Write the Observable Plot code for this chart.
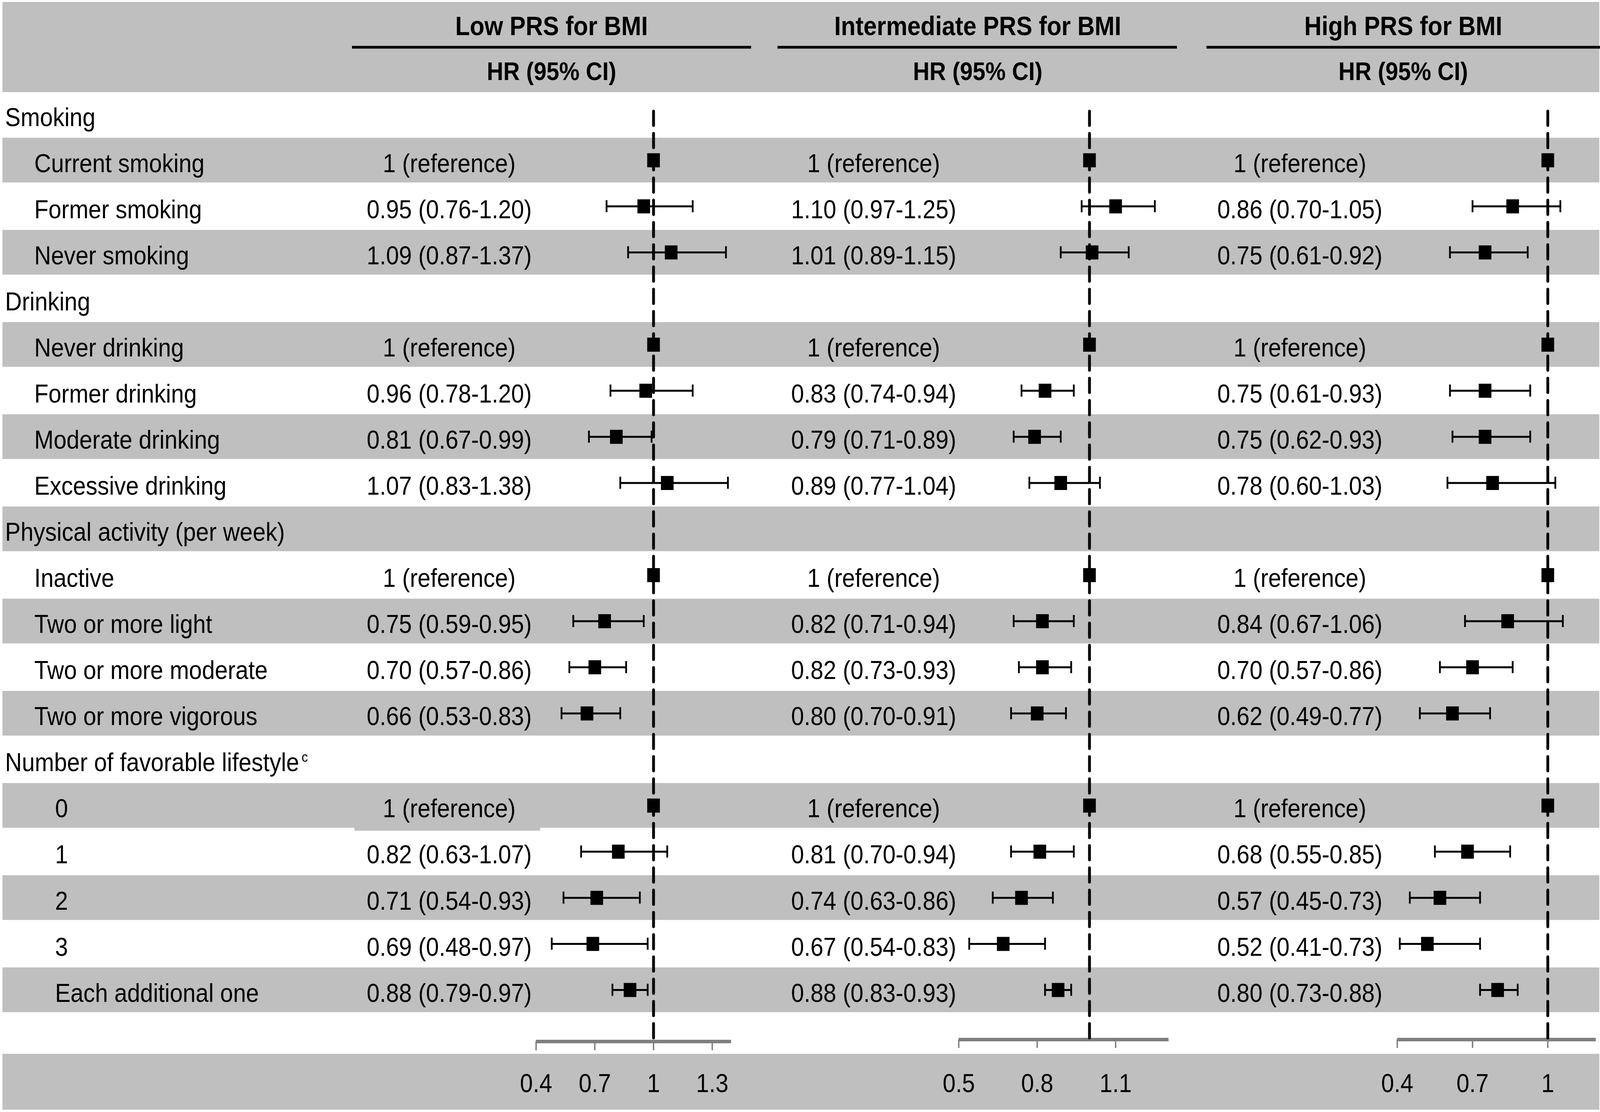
<!DOCTYPE html>
<html><head><meta charset="utf-8">
<script src="https://cdn.jsdelivr.net/npm/d3@7"></script>
<script src="https://cdn.jsdelivr.net/npm/@observablehq/plot@0.6"></script>
<style>
html,body{margin:0;padding:0;background:#fff;overflow:hidden;}
#chart{position:relative;width:100vw;height:100vh;overflow:hidden;background:#fff;}
#chart svg{position:absolute;left:0;top:0;width:100%!important;height:100%!important;max-width:none!important;}
</style></head><body><div id="chart"></div>
<script>
// ---------------- DATA ----------------
const rowLabels = [
  "Smoking", "Current smoking", "Former smoking", "Never smoking",
  "Drinking", "Never drinking", "Former drinking", "Moderate drinking", "Excessive drinking",
  "Physical activity (per week)", "Inactive", "Two or more light", "Two or more moderate", "Two or more vigorous",
  "Number of favorable lifestyle", "0", "1", "2", "3", "Each additional one"
];
const rowLevels = [0,1,1,1, 0,1,1,1,1, 0,1,1,1,1, 0,2,2,2,2,2];
const superscriptNote = "c";
const panelTitles = ["Low PRS for BMI", "Intermediate PRS for BMI", "High PRS for BMI"];
const ciHeader = "HR (95% CI)";
const refLabel = "1 (reference)";

const lowHR = [null,1,0.95,1.09, null,1,0.96,0.81,1.07, null,1,0.75,0.70,0.66, null,1,0.82,0.71,0.69,0.88];
const lowLo = [null,null,0.76,0.87, null,null,0.78,0.67,0.83, null,null,0.59,0.57,0.53, null,null,0.63,0.54,0.48,0.79];
const lowHi = [null,null,1.20,1.37, null,null,1.20,0.99,1.38, null,null,0.95,0.86,0.83, null,null,1.07,0.93,0.97,0.97];

const intHR = [null,1,1.10,1.01, null,1,0.83,0.79,0.89, null,1,0.82,0.82,0.80, null,1,0.81,0.74,0.67,0.88];
const intLo = [null,null,0.97,0.89, null,null,0.74,0.71,0.77, null,null,0.71,0.73,0.70, null,null,0.70,0.63,0.54,0.83];
const intHi = [null,null,1.25,1.15, null,null,0.94,0.89,1.04, null,null,0.94,0.93,0.91, null,null,0.94,0.86,0.83,0.93];

const highHR = [null,1,0.86,0.75, null,1,0.75,0.75,0.78, null,1,0.84,0.70,0.62, null,1,0.68,0.57,0.52,0.80];
const highLo = [null,null,0.70,0.61, null,null,0.61,0.62,0.60, null,null,0.67,0.57,0.49, null,null,0.55,0.45,0.41,0.73];
const highHi = [null,null,1.05,0.92, null,null,0.93,0.93,1.03, null,null,1.06,0.86,0.77, null,null,0.85,0.73,0.73,0.88];

const lowTicks = [0.4, 0.7, 1, 1.3];
const intTicks = [0.5, 0.8, 1.1];
const highTicks = [0.4, 0.7, 1];
const refValue = 1;

// ---------------- LAYOUT ----------------
const W = 4550, H = 2848;
const FONT = "'Liberation Sans', Arial, Helvetica, sans-serif";
const GRAY = "#bfbfbf";
const AXIS = "#7f7f7f";
const yScale = {domain: [1, 19], range: [410, 2535], axis: null};
const px = p => 1 + (p - 410) * 18 / 2125; // pixel -> row units (layout helper)
const indentX = [14, 97, 156];
const hrCenterX = [1277, 2484, 3696];
const titleX = [1568, 2780, 3990];
const ruleX1 = [1001, 2211, 3431];
const ruleX2 = [2136, 3347, 4550];
const style = {background: "transparent", fontFamily: FONT, color: "black", overflow: "visible"};

const rows = rowLabels.map((label, i) => ({row: i, label, level: rowLevels[i]}));
const grayRows = rows.filter(d => d.row % 2 === 1).map(d => d.row);
const tickRow = rows.length + 1;

function fmt(v) { return v.toFixed(2); }
function panelRows(hr, lo, hi) {
  return rows.map((d, i) => ({row: d.row, hr: hr[i], lo: lo[i], hi: hi[i]})).filter(d => d.hr != null);
}
const panels = [
  {data: panelRows(lowHR, lowLo, lowHi), domain: [0.4, 1.397], range: [1524, 2079], ticks: lowTicks, axisY: px(2667), tickEnd: px(2690)},
  {data: panelRows(intHR, intLo, intHi), domain: [0.5, 1.303], range: [2726, 3323], ticks: intTicks, axisY: px(2662), tickEnd: px(2684)},
  {data: panelRows(highHR, highLo, highHi), domain: [0.4, 1.192], range: [3973, 4538], ticks: highTicks, axisY: px(2662), tickEnd: px(2684)}
];

// ---------------- BACKGROUND / TABLE ----------------
const hrTextMarks = panels.map((p, k) => Plot.text(p.data, {
  x: hrCenterX[k], y: "row", dy: 9, fontSize: 66,
  text: d => d.lo == null ? refLabel : `${fmt(d.hr)} (${fmt(d.lo)}-${fmt(d.hi)})`
}));

const bg = Plot.plot({
  width: W, height: H, margin: 0,
  x: {domain: [0, W], range: [0, W], axis: null},
  y: yScale,
  style,
  marks: [
    Plot.rect([0], {x1: 7, x2: 4548, y1: px(5), y2: px(236), fill: GRAY}),
    Plot.rect(grayRows, {x1: 7, x2: 4548, y1: d => d - 0.485, y2: d => d + 0.485, fill: GRAY}),
    Plot.rect([15], {x1: 1008, x2: 1536, y1: d => d + 0.4, y2: d => d + 0.548, fill: GRAY}),
    Plot.rect([tickRow], {x1: 7, x2: 4548, y1: px(2699), y2: px(2842), fill: GRAY}),
    Plot.text(panelTitles, {x: (d, i) => titleX[i], y: px(67.5), text: d => d, fontSize: 68, fontWeight: "bold"}),
    Plot.ruleY(panelTitles, {x1: (d, i) => ruleX1[i], x2: (d, i) => ruleX2[i], y: px(120.5), stroke: "black", strokeWidth: 7}),
    Plot.text(panelTitles, {x: (d, i) => titleX[i], y: px(183.5), text: () => ciHeader, fontSize: 65, fontWeight: "bold"}),
    Plot.text(rows, {x: d => indentX[d.level], y: "row", text: "label", textAnchor: "start", fontSize: 66, dy: 9}),
    Plot.text([superscriptNote], {x: 857, y: 14, text: d => d, textAnchor: "start", fontSize: 36, dy: -6}),
    ...hrTextMarks
  ]
});
bg.setAttribute("preserveAspectRatio", "none");
document.getElementById("chart").append(bg);

// ---------------- FOREST PANELS ----------------
for (const p of panels) {
  const ci = p.data.filter(d => d.lo != null);
  const caps = ci.flatMap(d => [{row: d.row, v: d.lo}, {row: d.row, v: d.hi}]);
  const chart = Plot.plot({
    width: W, height: H, margin: 0,
    x: {domain: p.domain, range: p.range, axis: null},
    y: yScale,
    style,
    marks: [
      Plot.ruleY([0], {x1: p.domain[0], x2: p.domain[1], y: p.axisY, stroke: AXIS, strokeWidth: 9}),
      Plot.ruleX(p.ticks, {x: d => d, y1: p.axisY, y2: p.tickEnd, stroke: AXIS, strokeWidth: 4}),
      Plot.text(p.ticks, {x: d => d, y: tickRow, text: d => String(d), fontSize: 66, dy: 4}),
      Plot.ruleX([refValue], {x: d => d, y1: px(285), y2: p.axisY, stroke: "black", strokeWidth: 8, strokeDasharray: "36,21", strokeLinecap: "round"}),
      Plot.ruleY(ci, {x1: "lo", x2: "hi", y: "row", stroke: "black", strokeWidth: 5}),
      Plot.ruleX(caps, {x: "v", y1: d => d.row - 0.131, y2: d => d.row + 0.131, stroke: "black", strokeWidth: 5}),
      Plot.dot(p.data, {x: "hr", y: "row", symbol: "square", r: 20.3, fill: "black", stroke: null})
    ]
  });
  chart.setAttribute("preserveAspectRatio", "none");
  document.getElementById("chart").append(chart);
}
</script></body></html>
